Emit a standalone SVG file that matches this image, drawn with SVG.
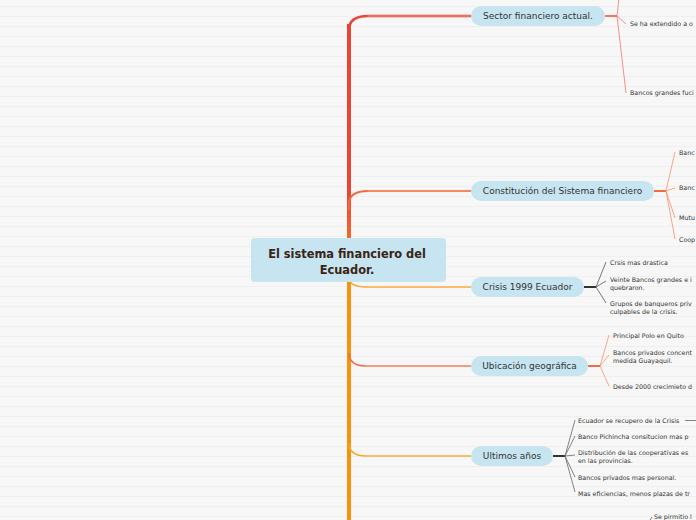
<svg xmlns="http://www.w3.org/2000/svg" width="696" height="520" viewBox="0 0 696 520">
<defs>
<pattern id="bg" width="696" height="10" patternUnits="userSpaceOnUse">
<rect width="696" height="10" fill="#f7f7f7"/>
<rect y="6" width="696" height="1" fill="#efefef"/>
</pattern>
<linearGradient id="trunk" x1="0" y1="0" x2="0" y2="520" gradientUnits="userSpaceOnUse">
<stop offset="0" stop-color="#ea4436"/>
<stop offset="0.37" stop-color="#ea4436"/>
<stop offset="0.46" stop-color="#f26a2a"/>
<stop offset="0.55" stop-color="#f7920a"/>
<stop offset="1" stop-color="#f7920a"/>
</linearGradient>
<style>
.node{fill:#c6e5f1}
.nt{font-family:"DejaVu Sans",Verdana,sans-serif;font-size:9px;fill:#333;text-anchor:middle}
.ct{font-family:"DejaVu Sans",Verdana,sans-serif;font-size:11.4px;font-weight:bold;fill:#3a2416;text-anchor:middle}
.lt{font-family:"DejaVu Sans",Verdana,sans-serif;font-size:6.3px;fill:#333}
.br{fill:none;stroke-linecap:round}
</style>
</defs>
<rect width="696" height="520" fill="url(#bg)"/>
<g id="connectors">
<rect x="347" y="24" width="4" height="496" fill="url(#trunk)"/>
<path class="br" d="M349,40 L349,30 Q349,16 368,16 L471,16" stroke="#ea4436" stroke-width="2.5"/>
<path class="br" d="M368,16 L471,16" stroke="#f4968d" stroke-width="1"/>
<path class="br" d="M349,210 L349,204 Q349,191 368,191 L471,191" stroke="#f26a3d" stroke-width="2"/>
<path class="br" d="M368,191 L471,191" stroke="#f6a58c" stroke-width="1"/>
<path class="br" d="M349,278 Q350,287 366,287 L471,287" stroke="#f8a52c" stroke-width="1.6"/>
<path class="br" d="M366,287 L471,287" stroke="#fbc17a" stroke-width="1"/>
<path class="br" d="M349,354 Q350,366 366,366 L471,366" stroke="#f06a4a" stroke-width="1.6"/>
<path class="br" d="M366,366 L471,366" stroke="#f6ab98" stroke-width="1"/>
<path class="br" d="M349,444 Q350,456 366,456 L471,456" stroke="#f8a52c" stroke-width="1.6"/>
<path class="br" d="M366,456 L471,456" stroke="#fbc17a" stroke-width="1"/>
<g stroke="#f4766a" fill="none" stroke-width="0.8">
<path d="M605,16 L617,16" stroke-width="2"/>
<path d="M617,16 L621,-20"/>
<path d="M617,16 L626,24"/>
<path d="M617,16 L626,93"/>
</g>
<g stroke="#f6906a" fill="none" stroke-width="0.8">
<path d="M654,191 L666,191" stroke-width="2" stroke="#f06a3d"/>
<path d="M666,191 L675,152"/>
<path d="M666,191 L675,188"/>
<path d="M666,191 L675,218"/>
<path d="M666,191 L675,239"/>
</g>
<g stroke="#555" fill="none" stroke-width="0.8">
<path d="M584,287 L596,287" stroke-width="2" stroke="#333"/>
<path d="M596,287 L606,262"/>
<path d="M596,287 L606,281"/>
<path d="M596,287 L606,303"/>
</g>
<g stroke="#f6946e" fill="none" stroke-width="0.8">
<path d="M588,366 L600,366" stroke-width="2" stroke="#f06a4a"/>
<path d="M600,366 L609,335"/>
<path d="M600,366 L609,355"/>
<path d="M600,366 L609,386"/>
</g>
<g stroke="#666" fill="none" stroke-width="0.8">
<path d="M553,456 L565,456" stroke-width="2" stroke="#333"/>
<path d="M565,456 L575,420"/>
<path d="M565,456 L575,436"/>
<path d="M565,456 L575,455"/>
<path d="M565,456 L575,477"/>
<path d="M565,456 L575,492"/>
<path d="M685,420.5 L696,420.5"/>
<path d="M650,520 L652,517"/>
</g>
</g>
<g id="central">
<rect x="251" y="238" width="195" height="44" rx="4" class="node"/>
<text class="ct" x="347" y="258">El sistema financiero del</text>
<text class="ct" x="347" y="274">Ecuador.</text>
</g>
<g id="sector">
<rect x="471" y="6" width="134" height="20" rx="10" class="node"/>
<text class="nt" x="538" y="19.2">Sector financiero actual.</text>
</g>
<g id="sector-children">
<text class="lt" x="630" y="26">Se ha extendido a o</text>
<text class="lt" x="630" y="95">Bancos grandes fuci</text>
</g>
<g id="constitucion">
<rect x="471" y="181" width="183" height="20" rx="10" class="node"/>
<text class="nt" x="562.5" y="194.2">Constitución del Sistema financiero</text>
</g>
<g id="constitucion-children">
<text class="lt" x="679" y="155">Banc</text>
<text class="lt" x="679" y="190">Banc</text>
<text class="lt" x="679" y="220">Mutu</text>
<text class="lt" x="679" y="242">Coop</text>
</g>
<g id="crisis">
<rect x="471" y="277" width="113" height="20" rx="10" class="node"/>
<text class="nt" x="527.5" y="290.2">Crisis 1999 Ecuador</text>
</g>
<g id="crisis-children">
<text class="lt" x="610" y="265">Crsis mas drastica</text>
<text class="lt" x="610" y="282">Veinte Bancos grandes e i</text>
<text class="lt" x="610" y="290">quebraron.</text>
<text class="lt" x="610" y="306">Grupos de banqueros priv</text>
<text class="lt" x="610" y="314">culpables de la crisis.</text>
</g>
<g id="ubicacion">
<rect x="471" y="356" width="117" height="20" rx="10" class="node"/>
<text class="nt" x="529.5" y="369.2">Ubicación geográfica</text>
</g>
<g id="ubicacion-children">
<text class="lt" x="613" y="338">Principal Polo en Quito</text>
<text class="lt" x="613" y="355">Bancos privados concent</text>
<text class="lt" x="613" y="363">medida Guayaquil.</text>
<text class="lt" x="613" y="389">Desde 2000 crecimieto d</text>
</g>
<g id="ultimos">
<rect x="471" y="446" width="82" height="20" rx="10" class="node"/>
<text class="nt" x="512" y="459.2">Ultimos años</text>
</g>
<g id="ultimos-children">
<text class="lt" x="578" y="423">Ecuador se recupero de la Crisis</text>
<text class="lt" x="578" y="439">Banco Pichincha consitucion mas p</text>
<text class="lt" x="578" y="455">Distribución de las cooperativas es</text>
<text class="lt" x="578" y="463">en las provincias.</text>
<text class="lt" x="578" y="480">Bancos privados mas personal.</text>
<text class="lt" x="578" y="496">Mas eficiencias, menos plazas de tr</text>
</g>
<g id="bottom-child">
<text class="lt" x="654" y="519">Se pirmitio l</text>
</g>
</svg>
